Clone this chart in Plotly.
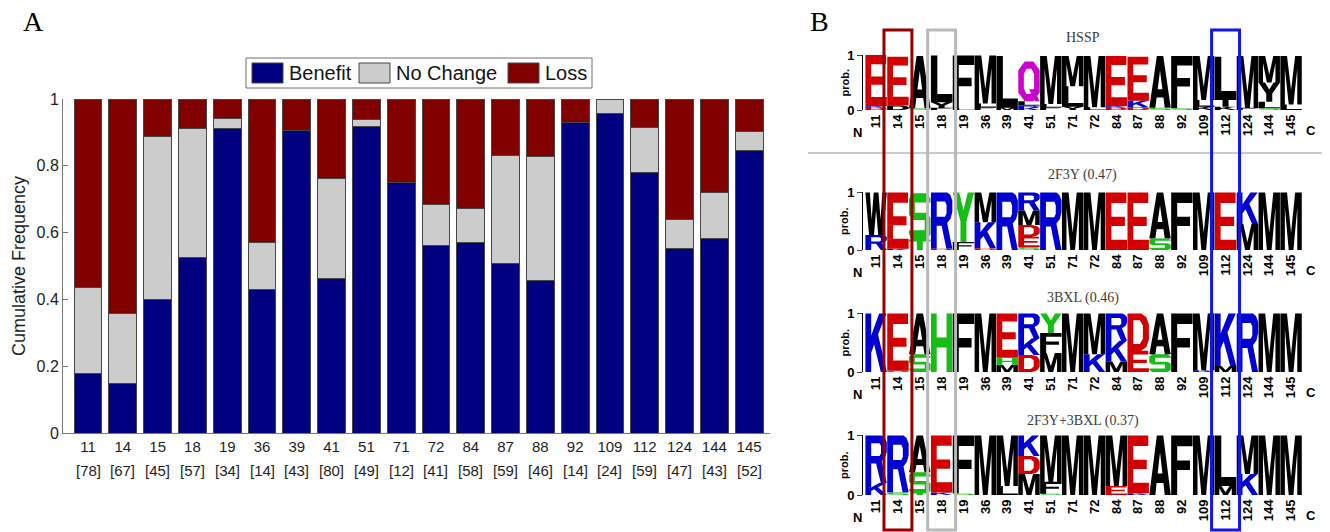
import plotly.graph_objects as go

W, H = 1330, 532

# ---------------- Panel A data ----------------
POSITIONS = ["11", "14", "15", "18", "19", "36", "39", "41", "51", "71",
             "72", "84", "87", "88", "92", "109", "112", "124", "144", "145"]
COUNTS = [78, 67, 45, 57, 34, 14, 43, 80, 49, 12, 41, 58, 59, 46, 14, 24, 59, 47, 43, 52]
BENEFIT = [0.179, 0.149, 0.400, 0.526, 0.912, 0.429, 0.907, 0.463, 0.918, 0.750,
           0.561, 0.569, 0.508, 0.457, 0.929, 0.958, 0.780, 0.553, 0.581, 0.846]
NO_CHANGE = [0.256, 0.209, 0.489, 0.386, 0.029, 0.142, 0.000, 0.300, 0.020, 0.000,
             0.122, 0.103, 0.322, 0.370, 0.000, 0.042, 0.136, 0.085, 0.140, 0.058]
LOSS = [0.565, 0.642, 0.111, 0.088, 0.059, 0.429, 0.093, 0.237, 0.062, 0.250,
        0.317, 0.328, 0.170, 0.173, 0.071, 0.000, 0.084, 0.362, 0.279, 0.096]
SERIES_NAMES = ["Benefit", "No Change", "Loss"]

# ---------------- Panel B data (letter, colour code, probability), bottom -> top ----
LOGO_TITLES = ["HSSP", "2F3Y (0.47)", "3BXL (0.46)", "2F3Y+3BXL (0.37)"]
HSSP = [
    [("D", "r", 0.04), ("K", "b", 0.03), ("E", "r", 0.93)],
    [("D", "k", 0.08), ("E", "r", 0.89)],
    [("S", "g", 0.03), ("A", "k", 0.95)],
    [("F", "k", 0.04), ("Y", "k", 0.10), ("L", "k", 0.85)],
    [("L", "k", 0.03), ("F", "k", 0.96)],
    [("F", "k", 0.05), ("L", "k", 0.07), ("M", "k", 0.87)],
    [("M", "k", 0.04), ("L", "k", 0.94)],
    [("K", "b", 0.04), ("R", "b", 0.04), ("L", "k", 0.08), ("Q", "m", 0.72)],
    [("F", "k", 0.05), ("L", "k", 0.06), ("M", "k", 0.87)],
    [("Y", "k", 0.06), ("L", "k", 0.37), ("M", "k", 0.55)],
    [("L", "k", 0.05), ("M", "k", 0.93)],
    [("D", "r", 0.04), ("K", "b", 0.03), ("E", "r", 0.91)],
    [("D", "r", 0.05), ("K", "b", 0.12), ("E", "r", 0.80)],
    [("S", "g", 0.04), ("A", "k", 0.94)],
    [("S", "g", 0.03), ("F", "k", 0.95)],
    [("K", "k", 0.06), ("L", "k", 0.12), ("M", "k", 0.80)],
    [("K", "k", 0.06), ("T", "k", 0.15), ("L", "k", 0.76)],
    [("F", "k", 0.04), ("M", "k", 0.94)],
    [("S", "g", 0.03), ("L", "k", 0.12), ("Y", "k", 0.35), ("M", "k", 0.48)],
    [("L", "k", 0.10), ("M", "k", 0.88)],
]
L2F3Y = [
    [("R", "b", 0.26), ("W", "k", 0.73)],
    [("K", "b", 0.02), ("E", "r", 0.97)],
    [("T", "g", 0.18), ("S", "g", 0.80)],
    [("D", "r", 0.02), ("R", "b", 0.97)],
    [("F", "k", 0.14), ("Y", "g", 0.85)],
    [("D", "r", 0.03), ("K", "b", 0.45), ("M", "k", 0.51)],
    [("R", "b", 0.99)],
    [("S", "g", 0.05), ("E", "r", 0.18), ("D", "r", 0.20), ("M", "k", 0.25), ("R", "b", 0.31)],
    [("R", "b", 0.99)],
    [("M", "k", 0.99)],
    [("M", "k", 0.99)],
    [("E", "r", 0.99)],
    [("E", "r", 0.99)],
    [("S", "g", 0.20), ("A", "k", 0.79)],
    [("F", "k", 0.99)],
    [("M", "k", 0.99)],
    [("E", "r", 0.99)],
    [("M", "k", 0.45), ("K", "b", 0.54)],
    [("M", "k", 0.99)],
    [("M", "k", 0.99)],
]
L3BXL = [
    [("K", "b", 0.99)],
    [("Q", "m", 0.02), ("E", "r", 0.97)],
    [("S", "g", 0.30), ("A", "k", 0.69)],
    [("H", "g", 0.99)],
    [("F", "k", 0.99)],
    [("M", "k", 0.99)],
    [("M", "k", 0.12), ("H", "g", 0.12), ("E", "r", 0.75)],
    [("D", "r", 0.29), ("K", "b", 0.28), ("R", "b", 0.42)],
    [("M", "k", 0.32), ("F", "k", 0.34), ("Y", "g", 0.33)],
    [("M", "k", 0.99)],
    [("K", "b", 0.30), ("M", "k", 0.69)],
    [("M", "k", 0.18), ("K", "b", 0.35), ("R", "b", 0.46)],
    [("E", "r", 0.36), ("D", "r", 0.63)],
    [("S", "g", 0.30), ("A", "k", 0.69)],
    [("F", "k", 0.99)],
    [("K", "b", 0.03), ("M", "k", 0.96)],
    [("M", "k", 0.10), ("K", "b", 0.89)],
    [("R", "b", 0.99)],
    [("M", "k", 0.99)],
    [("M", "k", 0.99)],
]
LBOTH = [
    [("K", "b", 0.20), ("R", "b", 0.79)],
    [("S", "g", 0.04), ("R", "b", 0.95)],
    [("T", "g", 0.03), ("S", "g", 0.35), ("A", "k", 0.61)],
    [("K", "b", 0.04), ("E", "r", 0.95)],
    [("S", "g", 0.03), ("F", "k", 0.96)],
    [("M", "k", 0.99)],
    [("L", "k", 0.15), ("M", "k", 0.84)],
    [("M", "k", 0.35), ("D", "r", 0.30), ("K", "b", 0.34)],
    [("S", "g", 0.02), ("F", "k", 0.20), ("M", "k", 0.77)],
    [("M", "k", 0.99)],
    [("M", "k", 0.99)],
    [("E", "r", 0.15), ("M", "k", 0.84)],
    [("K", "b", 0.03), ("E", "r", 0.96)],
    [("A", "k", 0.99)],
    [("F", "k", 0.99)],
    [("M", "k", 0.99)],
    [("M", "k", 0.15), ("L", "k", 0.84)],
    [("K", "b", 0.35), ("M", "k", 0.64)],
    [("M", "k", 0.99)],
    [("M", "k", 0.99)],
]
LOGOS = [HSSP, L2F3Y, L3BXL, LBOTH]
HIGHLIGHT_COLS = ["14", "18", "112"]

# ---------------- styles ----------------
NAVY = "rgb(0,0,128)"
GREY = "rgb(204,204,204)"
MAROON = "rgb(128,0,0)"
BAR_COLORS = [NAVY, GREY, MAROON]
LETTER_COLORS = {"r": "rgb(210,0,0)", "b": "rgb(0,0,210)", "g": "rgb(20,190,20)",
                 "k": "rgb(0,0,0)", "m": "rgb(205,0,205)"}
BOX_COLORS = ["rgb(150,0,0)", "rgb(185,185,185)", "rgb(20,20,240)"]
SANS = "Liberation Sans, Arial, sans-serif"
SERIF = "Liberation Serif, DejaVu Serif, serif"

# glyph outlines in a unit box (style definitions for letter drawing)
GLYPHS = {
    "E": [("o", [(0, 0), (1, 0), (1, 0.18), (0.27, 0.18), (0.27, 0.42), (0.9, 0.42), (0.9, 0.58),
                 (0.27, 0.58), (0.27, 0.82), (0.97, 0.82), (0.97, 1), (0, 1)])],
    "F": [("o", [(0, 0), (0.28, 0), (0.28, 0.42), (0.88, 0.42), (0.88, 0.58), (0.28, 0.58),
                 (0.28, 0.82), (1, 0.82), (1, 1), (0, 1)])],
    "L": [("o", [(0, 0), (1, 0), (1, 0.18), (0.3, 0.18), (0.3, 1), (0, 1)])],
    "T": [("o", [(0.36, 0), (0.64, 0), (0.64, 0.82), (1, 0.82), (1, 1), (0, 1), (0, 0.82), (0.36, 0.82)])],
    "H": [("o", [(0, 0), (0.27, 0), (0.27, 0.42), (0.73, 0.42), (0.73, 0), (1, 0), (1, 1), (0.73, 1),
                 (0.73, 0.59), (0.27, 0.59), (0.27, 1), (0, 1)])],
    "M": [("o", [(0, 0), (0.21, 0), (0.21, 0.74), (0.39, 0), (0.61, 0), (0.79, 0.74), (0.79, 0),
                 (1, 0), (1, 1), (0.69, 1), (0.5, 0.3), (0.31, 1), (0, 1)])],
    "W": [("o", [(0, 1), (0.17, 0), (0.4, 0), (0.5, 0.58), (0.6, 0), (0.83, 0), (1, 1), (0.79, 1),
                 (0.71, 0.36), (0.61, 1), (0.39, 1), (0.29, 0.36), (0.21, 1)])],
    "A": [("o", [(0, 0), (0.28, 0), (0.34, 0.2), (0.66, 0.2), (0.72, 0), (1, 0), (0.65, 1), (0.35, 1)]),
          ("h", [(0.39, 0.36), (0.61, 0.36), (0.5, 0.72)])],
    "Y": [("o", [(0.36, 0), (0.64, 0), (0.64, 0.42), (1, 1), (0.7, 1), (0.5, 0.64), (0.3, 1), (0, 1),
                 (0.36, 0.42)])],
    "K": [("o", [(0, 0), (0.27, 0), (0.27, 0.33), (0.41, 0.47), (0.72, 0), (1, 0), (0.59, 0.64),
                 (0.98, 1), (0.64, 1), (0.27, 0.62), (0.27, 1), (0, 1)])],
    "R": [("o", [(0, 0), (0.27, 0), (0.27, 0.41), (0.5, 0.41), (0.72, 0), (1, 0), (0.76, 0.46),
                 (0.92, 0.54), (1, 0.66), (1, 0.86), (0.9, 0.96), (0.76, 1), (0, 1)]),
          ("h", [(0.27, 0.57), (0.66, 0.57), (0.73, 0.63), (0.73, 0.78), (0.66, 0.84), (0.27, 0.84)])],
    "D": [("o", [(0, 0), (0.64, 0), (0.88, 0.1), (1, 0.3), (1, 0.7), (0.88, 0.9), (0.64, 1), (0, 1)]),
          ("h", [(0.27, 0.18), (0.58, 0.18), (0.72, 0.32), (0.72, 0.68), (0.58, 0.82), (0.27, 0.82)])],
    "Q": [("o", [(0.3, 0), (0.7, 0), (1, 0.22), (1, 0.78), (0.7, 1), (0.3, 1), (0, 0.78), (0, 0.22)]),
          ("h", [(0.38, 0.18), (0.62, 0.18), (0.74, 0.32), (0.74, 0.68), (0.62, 0.82), (0.38, 0.82),
                 (0.26, 0.68), (0.26, 0.32)]),
          ("o", [(0.5, 0.3), (0.78, 0.0), (1.0, 0.0), (0.72, 0.3)])],
    "S": [("o", [(0, 0.24), (0, 0.12), (0.14, 0), (0.86, 0), (1, 0.12), (1, 0.46), (0.86, 0.58),
                 (0.27, 0.58), (0.27, 0.8), (1, 0.8), (1, 0.88), (0.86, 1), (0.14, 1), (0, 0.88),
                 (0, 0.54), (0.14, 0.42), (0.73, 0.42), (0.73, 0.2), (0.0, 0.2)])],
}


def px(x):
    return x / W


def py(y):
    return 1 - y / H


def oriented(pts, kind):
    area = sum(pts[i][0] * pts[(i + 1) % len(pts)][1] - pts[(i + 1) % len(pts)][0] * pts[i][1]
               for i in range(len(pts)))
    if (kind == "o" and area < 0) or (kind == "h" and area > 0):
        return pts[::-1]
    return pts


def glyph_path(letter, x0, x1, y0, y1):
    out = []
    for kind, pts in GLYPHS[letter]:
        pts = oriented(pts, kind)
        coords = [(x0 + (x1 - x0) * gx, y0 + (y1 - y0) * gy) for gx, gy in pts]
        out.append("M " + " L ".join(f"{x:.4f},{y:.4f}" for x, y in coords) + " Z")
    return " ".join(out)


def label(x, y, text, size, family=SANS, color="black", angle=0, xanchor="center"):
    return dict(x=x, y=y, xref="paper", yref="paper", text=text, showarrow=False, textangle=angle,
                xanchor=xanchor, yanchor="middle", font=dict(family=family, size=size, color=color))


fig = go.Figure()

# ---------------- Panel A ----------------
for name, vals, col in zip(SERIES_NAMES, [BENEFIT, NO_CHANGE, LOSS], BAR_COLORS):
    fig.add_trace(go.Bar(x=POSITIONS, y=vals, name=name, marker_color=col,
                         marker_line=dict(color="rgb(70,70,70)", width=1),
                         width=0.8, showlegend=False, xaxis="x", yaxis="y"))

AX_GREY = "rgb(120,120,120)"
TXT = "rgb(30,30,30)"
layout = dict(
    width=W, height=H, margin=dict(l=0, r=0, t=0, b=0, autoexpand=False),
    paper_bgcolor="white", plot_bgcolor="white", barmode="stack", bargap=0.2, showlegend=False,
    xaxis=dict(domain=[px(63), px(770)], anchor="y", type="category", range=[-0.72, 19.6],
               showline=True, linecolor=AX_GREY, linewidth=1, ticks="", showgrid=False, automargin=False,
               tickfont=dict(family=SANS, size=15, color=TXT), ticklabelstandoff=0),
    yaxis=dict(domain=[py(433), py(99)], anchor="x", range=[0, 1], automargin=False,
               tickvals=[0, 0.2, 0.4, 0.6, 0.8, 1], ticktext=["0", "0.2", "0.4", "0.6", "0.8", "1"],
               showline=True, linecolor=AX_GREY, linewidth=1, ticks="inside", ticklen=5,
               tickcolor=AX_GREY, showgrid=False, zeroline=False,
               tickfont=dict(family=SANS, size=16, color=TXT)),
)

annotations = []
shapes = []
annotations.append(label(px(19), py(266), "Cumulative Frequency", 18, color=TXT, angle=-90))
for i, c in enumerate(COUNTS):
    annotations.append(dict(x=i, xref="x", y=py(470), yref="paper", text=f"[{c}]", showarrow=False,
                            xanchor="center", yanchor="middle",
                            font=dict(family=SANS, size=15, color=TXT)))

# manual legend
shapes.append(dict(type="rect", xref="paper", yref="paper", x0=px(246), x1=px(592), y0=py(88), y1=py(58),
                   line=dict(color="rgb(110,110,110)", width=1), fillcolor="white"))
leg_items = [(252, 283, 287), (359, 390, 394), (508, 539, 543)]
for (r0, r1, tx), name, col in zip(leg_items, SERIES_NAMES, BAR_COLORS):
    shapes.append(dict(type="rect", xref="paper", yref="paper", x0=px(r0), x1=px(r1), y0=py(83), y1=py(63),
                       line=dict(color="rgb(70,70,70)", width=1), fillcolor=col))
    annotations.append(label(px(tx), py(73), name, 20, color="rgb(20,20,20)", xanchor="left"))

annotations.append(label(px(33), py(22), "A", 28, family=SERIF))
annotations.append(label(px(819), py(21), "B", 28, family=SERIF))

# ---------------- Panel B ----------------
logo_y = [(110, 55, 38), (250, 192, 175), (372, 313, 298), (495, 435, 421)]
XL, XR = 863, 1302
for k, (logo, (yb, yt, ty)) in enumerate(zip(LOGOS, logo_y)):
    ax = k + 2
    xa, ya = f"x{ax}", f"y{ax}"
    fig.add_trace(go.Scatter(x=[None], y=[None], xaxis=xa, yaxis=ya, showlegend=False, hoverinfo="skip"))
    layout[f"xaxis{ax}"] = dict(domain=[px(XL), px(XR)], anchor=ya, range=[-0.6, 19.5], automargin=False,
                                tickvals=list(range(len(POSITIONS))), ticktext=POSITIONS, tickangle=-90,
                                showline=False, showgrid=False, zeroline=False, ticks="",
                                tickfont=dict(family=SANS, size=13, color="black", weight="bold"),
                                ticklabelstandoff=1)
    layout[f"yaxis{ax}"] = dict(domain=[py(yb), py(yt)], anchor=xa, range=[0, 1], tickvals=[0, 1],
                                automargin=False,
                                ticktext=["0", "1"], showline=True, linecolor="black", linewidth=1,
                                ticks="outside", ticklen=5, showgrid=False, zeroline=False,
                                tickfont=dict(family=SANS, size=13, color="black", weight="bold"))
    # letters, grouped by colour
    paths = {}
    for j, col in enumerate(logo):
        base = 0.0
        for letter, ccode, h in col:
            paths.setdefault(ccode, []).append(glyph_path(letter, j - 0.49, j + 0.49, base, base + h))
            base += h
    for ccode, plist in paths.items():
        shapes.append(dict(type="path", xref=xa, yref=ya, path=" ".join(plist),
                           fillcolor=LETTER_COLORS[ccode], line=dict(width=0), fillrule="nonzero"))
    # title and labels
    annotations.append(label((px(XL) + px(XR)) / 2, py(ty), LOGO_TITLES[k], 14, family=SERIF,
                             color="rgb(60,60,60)"))
    annotations.append(label(px(844), py((yb + yt) / 2), "<b>prob.</b>", 11, angle=-90))
    annotations.append(label(px(857), py(yb + 22), "<b>N</b>", 13))
    annotations.append(label(px(1311), py(yb + 20), "<b>C</b>", 13))

# separator line
shapes.append(dict(type="line", xref="paper", yref="paper", x0=px(808), x1=px(1322), y0=py(153), y1=py(153),
                   line=dict(color="rgb(150,150,150)", width=1)))
# highlight boxes spanning all logos
for pos, col in zip(HIGHLIGHT_COLS, BOX_COLORS):
    j = POSITIONS.index(pos)
    shapes.append(dict(type="rect", xref="x2", yref="paper", x0=j - 0.64, x1=j + 0.64, y0=py(530), y1=py(30),
                       line=dict(color=col, width=3), fillcolor="rgba(0,0,0,0)"))

layout["shapes"] = shapes
layout["annotations"] = annotations
fig.update_layout(**layout)
fig.write_html("out.html", config={"displayModeBar": False},
               post_script="document.body.style.margin='0';document.body.style.overflow='hidden';")
